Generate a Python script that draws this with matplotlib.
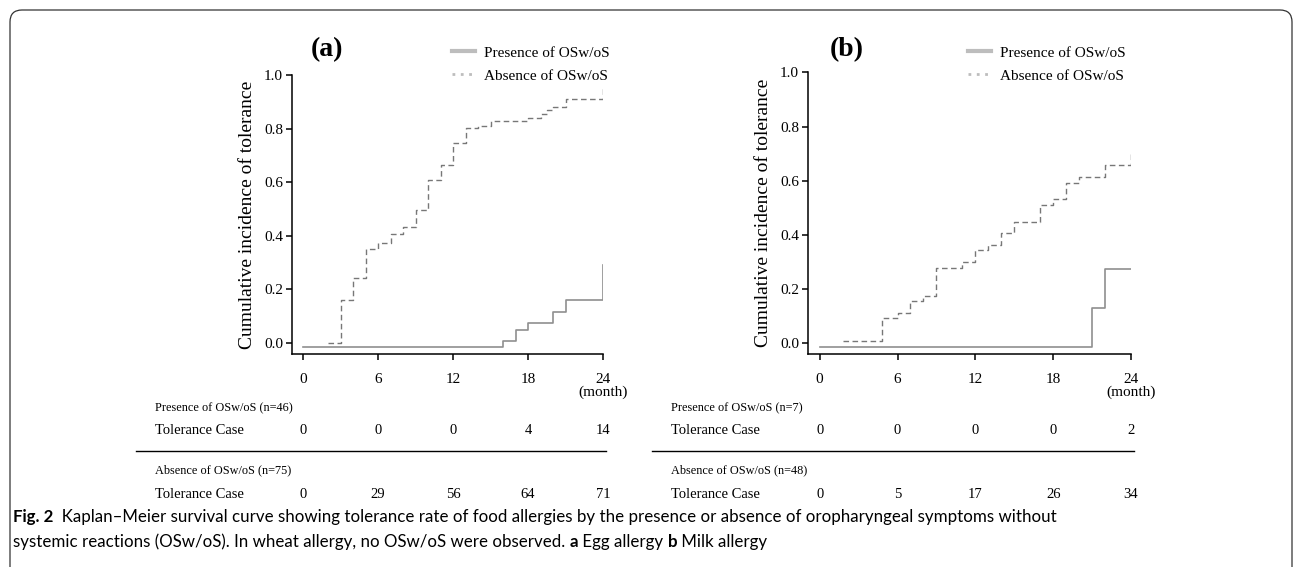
import matplotlib.pyplot as plt
import matplotlib.transforms as mtransforms
from matplotlib.lines import Line2D
from matplotlib.patches import FancyBboxPatch

# panel (a) egg allergy
a_pres_t = [0, 16, 17, 18, 20, 21, 24]
a_pres_y = [-0.016, 0.006, 0.048, 0.073, 0.115, 0.161, 0.29]
a_abs_t = [2, 3, 4, 5, 6, 7, 8, 9, 10, 11, 12, 13, 14, 15, 18, 19, 19.5, 20, 21, 24]
a_abs_y = [0.0, 0.16, 0.243, 0.349, 0.375, 0.405, 0.432, 0.498, 0.609, 0.665,
           0.746, 0.801, 0.811, 0.827, 0.841, 0.855, 0.869, 0.881, 0.91, 0.95]
a_pres_cases = [0, 0, 0, 4, 14]
a_abs_cases = [0, 29, 56, 64, 71]
a_n = (46, 75)

# panel (b) milk allergy
b_pres_t = [0, 21, 22, 24]
b_pres_y = [-0.014, 0.128, 0.272, 0.272]
b_abs_t = [1.8, 4.8, 6, 7, 8, 9, 11, 12, 13, 14, 15, 17, 18, 19, 20, 22, 24]
b_abs_y = [0.006, 0.091, 0.112, 0.155, 0.174, 0.278, 0.30, 0.342, 0.362, 0.405,
           0.448, 0.51, 0.531, 0.592, 0.614, 0.658, 0.70]
b_pres_cases = [0, 0, 0, 0, 2]
b_abs_cases = [0, 5, 17, 26, 34]
b_n = (7, 48)

months = [0, 6, 12, 18, 24]
yticks = [0.0, 0.2, 0.4, 0.6, 0.8, 1.0]

W, H = 1293, 567
fig = plt.figure(figsize=(W / 100, H / 100), dpi=100)
serif = 'Liberation Serif'

# rounded frame around figure
frame = FancyBboxPatch((0.10, -0.5), 12.82, 6.07, boxstyle='round,pad=0,rounding_size=0.12',
                       transform=fig.dpi_scale_trans, fill=False, lw=0.9, ec='#333333')
fig.patches.append(frame)


def panel(left, right, top, title, title_x, pres_t, pres_y, abs_t, abs_y,
          pres_cases, abs_cases, n):
    bottom = 354
    ax = fig.add_axes([left / W, 1 - bottom / H, (right - left) / W, (bottom - top) / H])
    ax.step(pres_t, pres_y, where='post', color='#8f8f8f', lw=1.2)
    ax.step(abs_t, abs_y, where='post', color='#777777', lw=1.0, ls=(0, (4, 2.5)))
    ax.set_xlim(-0.9, 24)
    ax.set_ylim(-0.041, 1.0)
    ax.set_xticks(months)
    ax.set_yticks(yticks)
    ax.set_yticklabels([f'{v:.1f}' for v in yticks])
    for s in ['top', 'right']:
        ax.spines[s].set_visible(False)
    for s in ['left', 'bottom']:
        ax.spines[s].set_linewidth(1.1)
    ax.tick_params(axis='both', direction='out', length=4.5, width=1.1, labelsize=11)
    ax.tick_params(axis='y', pad=2)
    ax.tick_params(axis='x', pad=9)
    for lab in ax.get_xticklabels() + ax.get_yticklabels():
        lab.set_fontfamily(serif)
    ax.set_ylabel('Cumulative incidence of tolerance', fontsize=14, family=serif, labelpad=6)

    tr = mtransforms.blended_transform_factory(ax.transData, fig.transFigure)
    fig.text(24, 1 - 392 / H, '(month)', transform=tr, ha='center', va='center',
             fontsize=11, family=serif)
    fig.text(title_x / W, 1 - 50 / H, title, fontsize=20, weight='bold', family=serif,
             ha='center', va='center')

    handles = [Line2D([], [], color='#bdbdbd', lw=3),
               Line2D([], [], color='#bdbdbd', lw=2, ls=(0, (1, 2)))]
    ax.legend(handles, ['Presence of OSw/oS', 'Absence of OSw/oS'], loc='upper left',
              bbox_to_anchor=((left + 160) / W, 1 - 46 / H), bbox_transform=fig.transFigure,
              frameon=False, prop={'family': serif, 'size': 11}, handlelength=1.5,
              handletextpad=0.6, labelspacing=0.6, borderpad=0, borderaxespad=0)

    # risk table
    x0 = left - 137
    fig.text(x0 / W, 1 - 408 / H, f'Presence of OSw/oS (n={n[0]})', fontsize=8.8,
             family=serif, va='center')
    fig.text(x0 / W, 1 - 431 / H, 'Tolerance Case', fontsize=10.5, family=serif, va='center')
    for m, c in zip(months, pres_cases):
        fig.text(m, 1 - 431 / H, str(c), transform=tr, ha='center', va='center',
                 fontsize=10.5, family=serif)
    fig.add_artist(Line2D([(left - 156) / W, (right + 3) / W], [1 - 451 / H, 1 - 451 / H],
                          color='black', lw=1.0))
    fig.text(x0 / W, 1 - 470 / H, f'Absence of OSw/oS (n={n[1]})', fontsize=8.8,
             family=serif, va='center')
    fig.text(x0 / W, 1 - 494 / H, 'Tolerance Case', fontsize=10.5, family=serif, va='center')
    for m, c in zip(months, abs_cases):
        fig.text(m, 1 - 494 / H, str(c), transform=tr, ha='center', va='center',
                 fontsize=10.5, family=serif)
    return ax


panel(292, 603, 75, '(a)', 327, a_pres_t, a_pres_y, a_abs_t, a_abs_y,
      a_pres_cases, a_abs_cases, a_n)
panel(808, 1131, 72.5, '(b)', 847, b_pres_t, b_pres_y, b_abs_t, b_abs_y,
      b_pres_cases, b_abs_cases, b_n)

# caption, bold and regular pieces chained one after another
cap = 'Lato'
fs = 12.2
t1 = fig.text(13 / W, 1 - 517 / H, 'Fig. 2', fontsize=fs, weight='bold', family=cap, va='center')
fig.text(0, 0, '', fontsize=fs)
plt.annotate('  Kaplan\u2013Meier survival curve showing tolerance rate of food allergies by the '
             'presence or absence of oropharyngeal symptoms without',
             xy=(1, 0), xycoords=t1, va='bottom', fontsize=fs, family=cap,
             annotation_clip=False)
t2 = fig.text(13 / W, 1 - 542 / H,
              'systemic reactions (OSw/oS). In wheat allergy, no OSw/oS were observed. ',
              fontsize=fs, family=cap, va='center')
t3 = plt.annotate('a', xy=(1, 0), xycoords=t2, va='bottom', fontsize=fs, family=cap,
                  weight='bold', annotation_clip=False)
t4 = plt.annotate(' Egg allergy ', xy=(1, 0), xycoords=t3, va='bottom', fontsize=fs,
                  family=cap, annotation_clip=False)
t5 = plt.annotate('b', xy=(1, 0), xycoords=t4, va='bottom', fontsize=fs, family=cap,
                  weight='bold', annotation_clip=False)
plt.annotate(' Milk allergy', xy=(1, 0), xycoords=t5, va='bottom', fontsize=fs, family=cap,
             annotation_clip=False)

fig.savefig('out.png', dpi=100)
